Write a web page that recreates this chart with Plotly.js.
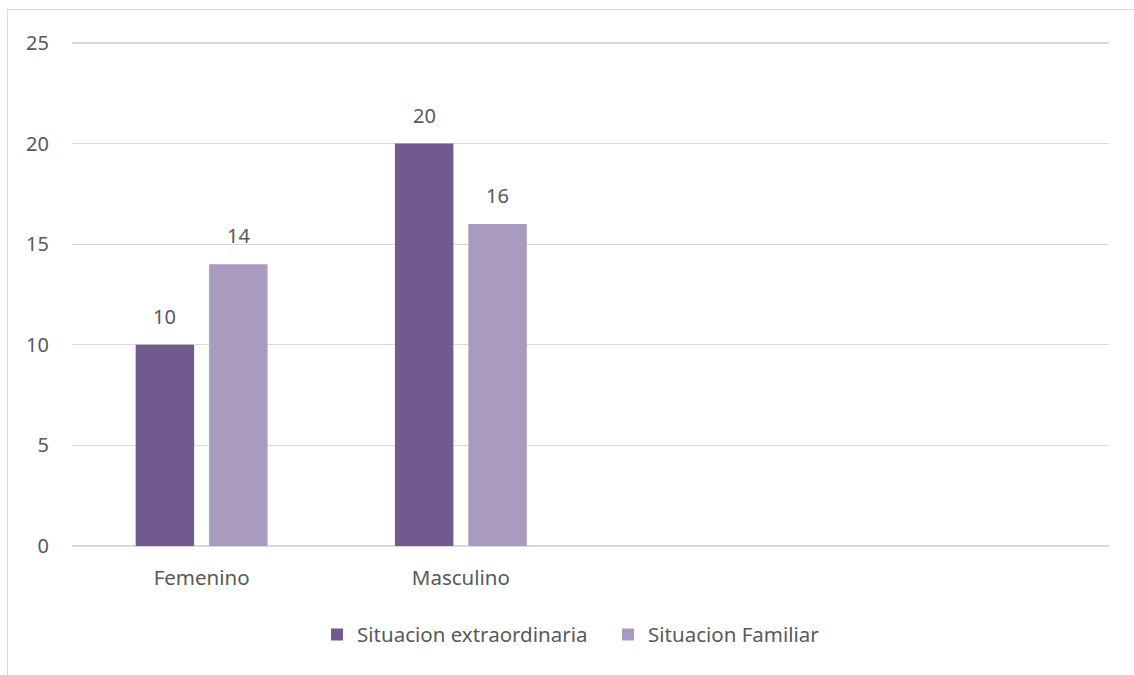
<!DOCTYPE html>
<html><head><meta charset="utf-8">
<script src="https://cdn.plot.ly/plotly-3.0.1.min.js"></script>
<style>
html,body{margin:0;padding:0;background:#fff;}
#frame{position:absolute;left:7px;top:9px;width:1200px;height:700px;border-left:1px solid #d9d9d9;border-top:1px solid #d9d9d9;}
#chart{position:absolute;left:0;top:0;width:1134px;height:675px;}
</style></head>
<body>
<div id="frame"></div>
<div id="chart"></div>
<script>
const categories = ["Femenino", "Masculino", " ", "  "];
const seriesNames = ["Situacion extraordinaria", "Situacion Familiar"];
const extraordinaria = [10, 20, null, null];
const familiar = [14, 16, null, null];
const colors = ["#715A8E", "#A99BC0"];
const yTicks = [0, 5, 10, 15, 20, 25];

const font = "Noto Sans, Open Sans, sans-serif";
const txtColor = "#595959";
const values = [extraordinaria, familiar];

const traces = values.map((v, i) => ({
  type: "bar",
  name: seriesNames[i],
  x: categories,
  y: v,
  marker: {color: colors[i], line: {width: 0}},
  hoverinfo: "skip"
}));

const shifts = [-36.75, 36.75];
const annotations = [];
values.forEach((v, i) => {
  v.forEach((val, j) => {
    if (val === null) return;
    annotations.push({
      x: categories[j], y: val, xref: "x", yref: "y",
      text: String(val), showarrow: false,
      xshift: shifts[i], yanchor: "bottom", yshift: 13,
      font: {family: font, size: 20, color: txtColor}
    });
  });
});

const layout = {
  width: 1134, height: 675,
  margin: {l: 72, r: 25, t: 40, b: 129},
  paper_bgcolor: "rgba(0,0,0,0)",
  plot_bgcolor: "rgba(0,0,0,0)",
  barmode: "group",
  bargap: 0.4335,
  bargroupgap: 0.204,
  font: {family: font, size: 20, color: txtColor},
  xaxis: {
    type: "category",
    categoryorder: "array", categoryarray: categories,
    range: [-0.5, 3.5],
    showgrid: false, zeroline: false, showline: false,
    ticks: "", ticklabelstandoff: 17,
    tickfont: {family: font, size: 20.5, color: txtColor},
    fixedrange: true
  },
  yaxis: {
    range: [0, 25.15],
    tickvals: yTicks,
    ticktext: yTicks.map(String),
    showgrid: true, gridcolor: "#d9d9d9", gridwidth: 1.3,
    zeroline: true, zerolinecolor: "#d9d9d9", zerolinewidth: 1.3,
    showline: false, ticks: "", ticklabelstandoff: 22,
    tickfont: {family: font, size: 20, color: txtColor},
    fixedrange: true
  },
  legend: {
    orientation: "h",
    x: 0.2363, xanchor: "left",
    y: -0.175, yanchor: "middle",
    font: {family: font, size: 20.5, color: txtColor},
    itemwidth: 30,
    entrywidth: 246, entrywidthmode: "pixels",
    bgcolor: "rgba(0,0,0,0)"
  },
  annotations: annotations,
  showlegend: true
};

Plotly.newPlot("chart", traces, layout, {displayModeBar: false, staticPlot: true});
</script>
</body></html>
